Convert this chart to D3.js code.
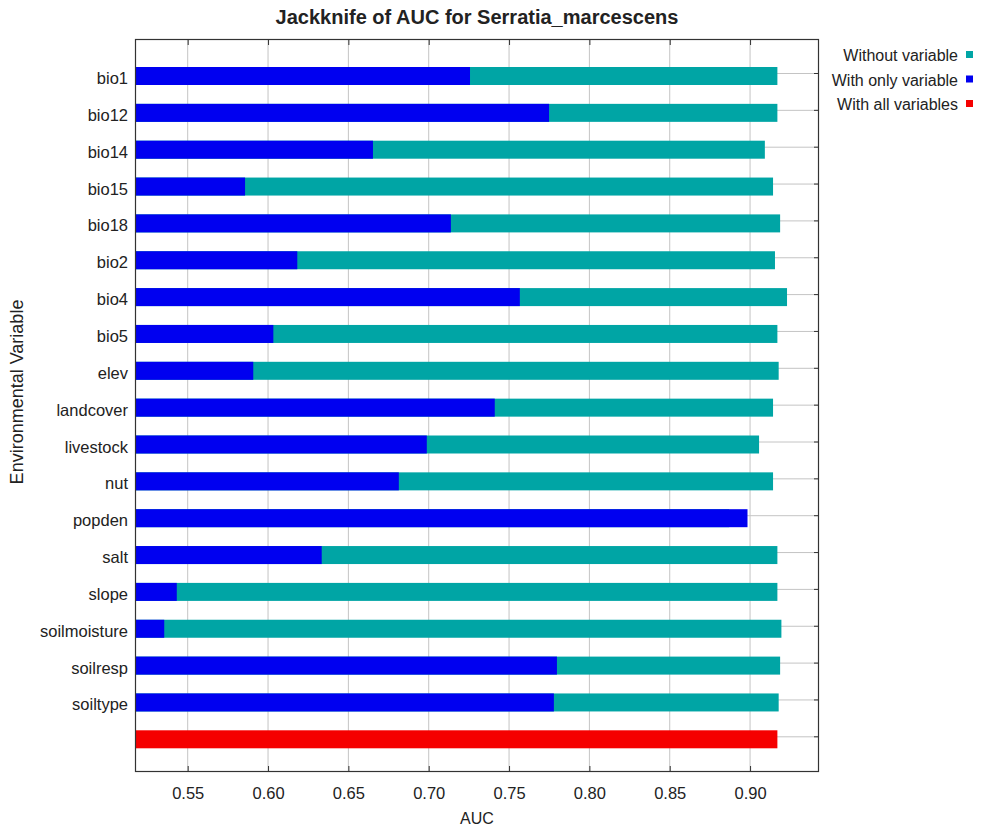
<!DOCTYPE html>
<html>
<head>
<meta charset="utf-8">
<script src="https://cdn.jsdelivr.net/npm/d3@7"></script>
<style>
  html, body { margin: 0; padding: 0; background: #ffffff; }
  svg { display: block; }
  text { font-family: "Liberation Sans", Arial, sans-serif; fill: #222; }
</style>
</head>
<body>
<svg id="chart" width="983" height="830"></svg>
<script>
// Jackknife test of variable importance (AUC)
const variables = ["bio1", "bio12", "bio14", "bio15", "bio18", "bio2", "bio4", "bio5", "elev",
  "landcover", "livestock", "nut", "popden", "salt", "slope", "soilmoisture", "soilresp", "soiltype"];

// AUC of the model built without each variable
const withoutVariable = [0.9170, 0.9170, 0.9092, 0.9143, 0.9187, 0.9155, 0.9230, 0.9170, 0.9178,
  0.9143, 0.9056, 0.9143, 0.8870, 0.9170, 0.9170, 0.9195, 0.9187, 0.9178];

// AUC of the model built with only that variable
const withOnlyVariable = [0.7257, 0.7749, 0.6653, 0.5857, 0.7138, 0.6182, 0.7567, 0.6033, 0.5908,
  0.7411, 0.6988, 0.6814, 0.8984, 0.6334, 0.5432, 0.5354, 0.7798, 0.7779];

// AUC of the full model
const withAllVariables = 0.9170;

const xTicks = [0.55, 0.60, 0.65, 0.70, 0.75, 0.80, 0.85, 0.90];
const legendLabels = ["Without variable", "With only variable", "With all variables"];
const colors = { without: "#00a5a5", only: "#0000f0", all: "#f50000" };

const svg = d3.select("#chart");
const plot = { left: 135, right: 819, top: 39, bottom: 772 };

const x = d3.scaleLinear().domain([0.5172, 0.9429]).range([plot.left, plot.right]);

// one row per variable plus the full-model row at the bottom
const rows = variables.concat(["all"]);
const y = d3.scalePoint().domain(rows).range([76, 76 + 36.85 * (rows.length - 1)]);
const barH = 18;
const gridY = (d) => y(d) - 2.5;

// vertical gridlines
svg.append("g").selectAll("line").data(xTicks).join("line")
  .attr("x1", d => x(d)).attr("x2", d => x(d))
  .attr("y1", plot.top).attr("y2", plot.bottom)
  .attr("stroke", "#c4c4c4").attr("stroke-width", 1);

// horizontal gridlines
svg.append("g").selectAll("line").data(rows).join("line")
  .attr("x1", plot.left).attr("x2", plot.right)
  .attr("y1", gridY).attr("y2", gridY)
  .attr("stroke", "#c4c4c4").attr("stroke-width", 1);

const x0 = x.domain()[0];

// "without variable" bars
svg.append("g").selectAll("rect").data(withoutVariable).join("rect")
  .attr("x", x(x0)).attr("y", (d, i) => y(variables[i]) - barH / 2)
  .attr("width", d => x(d) - x(x0)).attr("height", barH)
  .attr("fill", colors.without);

// "with only variable" bars
svg.append("g").selectAll("rect").data(withOnlyVariable).join("rect")
  .attr("x", x(x0)).attr("y", (d, i) => y(variables[i]) - barH / 2)
  .attr("width", d => x(d) - x(x0)).attr("height", barH)
  .attr("fill", colors.only);

// full model bar
svg.append("rect")
  .attr("x", x(x0)).attr("y", y("all") - barH / 2)
  .attr("width", x(withAllVariables) - x(x0)).attr("height", barH)
  .attr("fill", colors.all);

// plot frame
svg.append("rect").attr("x", plot.left + 0.5).attr("y", plot.top + 0.5)
  .attr("width", plot.right - plot.left - 1).attr("height", plot.bottom - plot.top - 1)
  .attr("fill", "none").attr("stroke", "#333").attr("stroke-width", 1.2);

// x axis (bottom) with inward ticks, plus matching ticks along the top
const xAxis = d3.axisBottom(x).tickValues(xTicks).tickFormat(d3.format(".2f")).tickSize(-6).tickPadding(15);
const gx = svg.append("g").attr("transform", `translate(0,${plot.bottom})`).call(xAxis);
gx.select(".domain").remove();
gx.selectAll(".tick line").attr("stroke", "#333");
gx.selectAll(".tick text").attr("font-size", 16.5).attr("fill", "#333")
  .attr("font-family", '"Liberation Sans", Arial, sans-serif');

const gxTop = svg.append("g").attr("transform", `translate(0,${plot.top})`)
  .call(d3.axisTop(x).tickValues(xTicks).tickSize(-6).tickFormat(""));
gxTop.select(".domain").remove();
gxTop.selectAll(".tick line").attr("stroke", "#333");

// category ticks on the right edge
svg.append("g").selectAll("line").data(rows).join("line")
  .attr("x1", plot.right - 5).attr("x2", plot.right)
  .attr("y1", gridY).attr("y2", gridY)
  .attr("stroke", "#333");

// category labels
svg.append("g").selectAll("text").data(variables).join("text")
  .attr("x", 128).attr("y", d => y(d) + 8)
  .attr("text-anchor", "end").attr("font-size", 16.5).attr("fill", "#333")
  .text(d => d);

// titles
svg.append("text").attr("x", 477).attr("y", 24).attr("text-anchor", "middle")
  .attr("font-size", 20).attr("font-weight", "bold").attr("fill", "#111")
  .text("Jackknife of AUC for Serratia_marcescens");

svg.append("text").attr("x", 477).attr("y", 824).attr("text-anchor", "middle")
  .attr("font-size", 16).attr("fill", "#333").text("AUC");

svg.append("text").attr("transform", "translate(23,392) rotate(-90)").attr("text-anchor", "middle")
  .attr("font-size", 18).attr("fill", "#333").text("Environmental Variable");

// legend
const legend = svg.append("g").selectAll("g").data(legendLabels).join("g")
  .attr("transform", (d, i) => `translate(0,${55 + i * 24.5})`);
legend.append("text").attr("x", 958).attr("y", 6).attr("text-anchor", "end")
  .attr("font-size", 16).attr("fill", "#333").text(d => d);
legend.append("rect").attr("x", 966).attr("y", -4).attr("width", 7).attr("height", 7)
  .attr("fill", (d, i) => [colors.without, colors.only, colors.all][i]);
</script>
</body>
</html>
